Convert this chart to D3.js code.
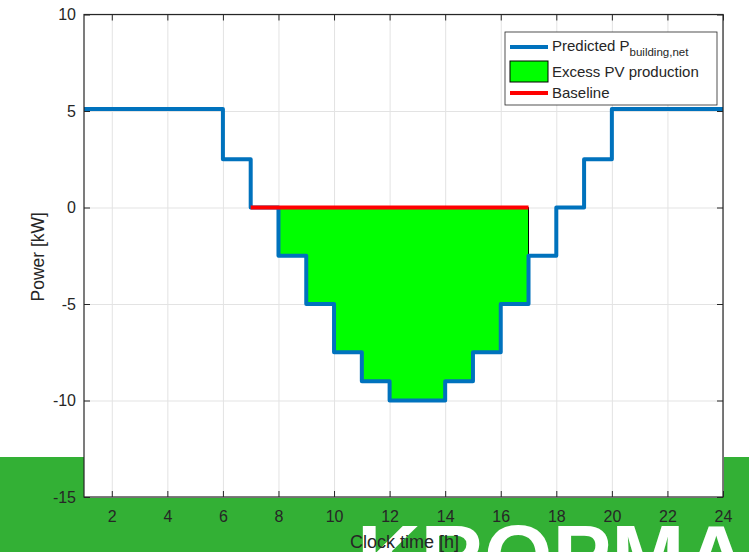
<!DOCTYPE html>
<html lang="en">
<head>
<meta charset="UTF-8">
<script src="https://d3js.org/d3.v7.min.js"></script>
<style>
  body { margin: 0; background: #fff; }
  text { font-family: "Liberation Sans", Arial, sans-serif; fill: #262626; }
</style>
</head>
<body>
<svg width="749" height="552" id="mainsvg"></svg>
<script>
// step points: hour where value starts, predicted net building power [kW]
const hours = [1, 6, 7, 8, 9, 10, 11, 12, 14, 15, 16, 17, 18, 19, 20, 24];
const power = [5.1, 2.5, 0, -2.5, -5, -7.5, -9, -10, -9, -7.5, -5, -2.5, 0, 2.5, 5.1, 5.1];
// excess PV production region (hours 8..17)
const excessHours = [8, 9, 10, 11, 12, 14, 15, 16, 17];
const excessPower = [-2.5, -5, -7.5, -9, -10, -9, -7.5, -5, -5];
const baselineHours = [7, 17];
const baselineValue = [0, 0];
const xTicks = [2, 4, 6, 8, 10, 12, 14, 16, 18, 20, 22, 24];
const yTicks = [-15, -10, -5, 0, 5, 10];

const svg = d3.select('#mainsvg');
const margin = { left: 84, right: 26, top: 14.5, bottom: 55 };
const width = 749, height = 552;
const innerW = width - margin.left - margin.right;
const innerH = height - margin.top - margin.bottom;

// green banner behind the axes
svg.append('rect').attr('x', 0).attr('y', 457).attr('width', width).attr('height', height - 457)
  .attr('fill', '#33b035');
svg.append('text').text('KROPMAN')
  .attr('x', 357).attr('y', 586)
  .attr('font-size', 88).attr('font-weight', 'bold')
  .style('fill', '#fff');

const x = d3.scaleLinear().domain([1, 24]).range([0, innerW]);
const y = d3.scaleLinear().domain([-15, 10]).range([innerH, 0]);

const g = svg.append('g').attr('transform', `translate(${margin.left},${margin.top})`);
g.append('rect').attr('width', innerW).attr('height', innerH).attr('fill', '#fff');

// grid
g.append('g').call(d3.axisBottom(x).tickValues(xTicks).tickSize(innerH).tickFormat(''))
  .call(a => a.select('.domain').remove())
  .selectAll('line').attr('stroke', '#e3e3e3');
g.append('g').call(d3.axisLeft(y).tickValues(yTicks).tickSize(-innerW).tickFormat(''))
  .call(a => a.select('.domain').remove())
  .selectAll('line').attr('stroke', '#e3e3e3');

// excess PV area
const area = d3.area().curve(d3.curveStepAfter)
  .x((d, i) => x(excessHours[i])).y0(y(0)).y1(d => y(d));
g.append('path').datum(excessPower).attr('d', area)
  .attr('fill', '#00ff00').attr('stroke', '#000').attr('stroke-width', 1);

// predicted power
const stepLine = d3.line().curve(d3.curveStepAfter)
  .x((d, i) => x(hours[i])).y(d => y(d));
g.append('path').datum(power).attr('d', stepLine)
  .attr('fill', 'none').attr('stroke', '#0072bd').attr('stroke-width', 4)
  .attr('stroke-linejoin', 'round');

// baseline (on top)
const line = d3.line();
g.append('path').datum(baselineHours.map((h, i) => [x(h), y(baselineValue[i])]))
  .attr('d', line).attr('fill', 'none').attr('stroke', '#ff0000').attr('stroke-width', 4);

// box + ticks
const fmt = d => String(d); // plain hyphen minus like matlab
g.append('rect').attr('width', innerW).attr('height', innerH)
  .attr('fill', 'none').attr('stroke', '#262626').attr('stroke-width', 1.2);
g.append('g').attr('transform', `translate(0,${innerH})`)
  .call(d3.axisBottom(x).tickValues(xTicks).tickFormat(fmt).tickSizeInner(-6).tickSizeOuter(0).tickPadding(14));
g.append('g')
  .call(d3.axisLeft(y).tickValues(yTicks).tickFormat(fmt).tickSizeInner(-6).tickSizeOuter(0).tickPadding(8));
g.append('g')
  .call(d3.axisTop(x).tickValues(xTicks).tickSizeInner(-6).tickSizeOuter(0).tickFormat(''));
g.append('g').attr('transform', `translate(${innerW},0)`)
  .call(d3.axisRight(y).tickValues(yTicks).tickSizeInner(-6).tickSizeOuter(0).tickFormat(''));
g.selectAll('.domain').remove();
g.selectAll('.tick line').filter(function () { return this.getAttribute('stroke') === 'currentColor'; })
  .attr('stroke', '#262626');
g.selectAll('.tick text').attr('font-size', 16).style('fill', '#262626')
  .attr('font-family', '"Liberation Sans", Arial, sans-serif');

// labels
svg.append('text').text('Clock time [h]')
  .attr('x', margin.left + innerW / 2 + 1).attr('y', 548).attr('text-anchor', 'middle').attr('font-size', 18);
svg.append('text').text('Power [kW]')
  .attr('transform', `translate(44,${margin.top + innerH / 2 + 1}) rotate(-90)`)
  .attr('text-anchor', 'middle').attr('font-size', 17.5);

// legend
const lg = svg.append('g').attr('transform', 'translate(505,32)');
lg.append('rect').attr('width', 212).attr('height', 73).attr('fill', '#fff')
  .attr('stroke', '#262626').attr('stroke-width', 0.8);
lg.append('line').attr('x1', 5).attr('x2', 43).attr('y1', 15).attr('y2', 15)
  .attr('stroke', '#0072bd').attr('stroke-width', 4);
const t1 = lg.append('text').attr('x', 47).attr('y', 19).attr('font-size', 15);
t1.append('tspan').text('Predicted P');
t1.append('tspan').text('building,net').attr('font-size', 11.5).attr('dy', 5);
lg.append('rect').attr('x', 5).attr('y', 29).attr('width', 38).attr('height', 21)
  .attr('fill', '#00ff00').attr('stroke', '#000');
lg.append('text').text('Excess PV production').attr('x', 47).attr('y', 45).attr('font-size', 15);
lg.append('line').attr('x1', 5).attr('x2', 43).attr('y1', 61).attr('y2', 61)
  .attr('stroke', '#ff0000').attr('stroke-width', 4);
lg.append('text').text('Baseline').attr('x', 47).attr('y', 66).attr('font-size', 15);
</script>
</body>
</html>
